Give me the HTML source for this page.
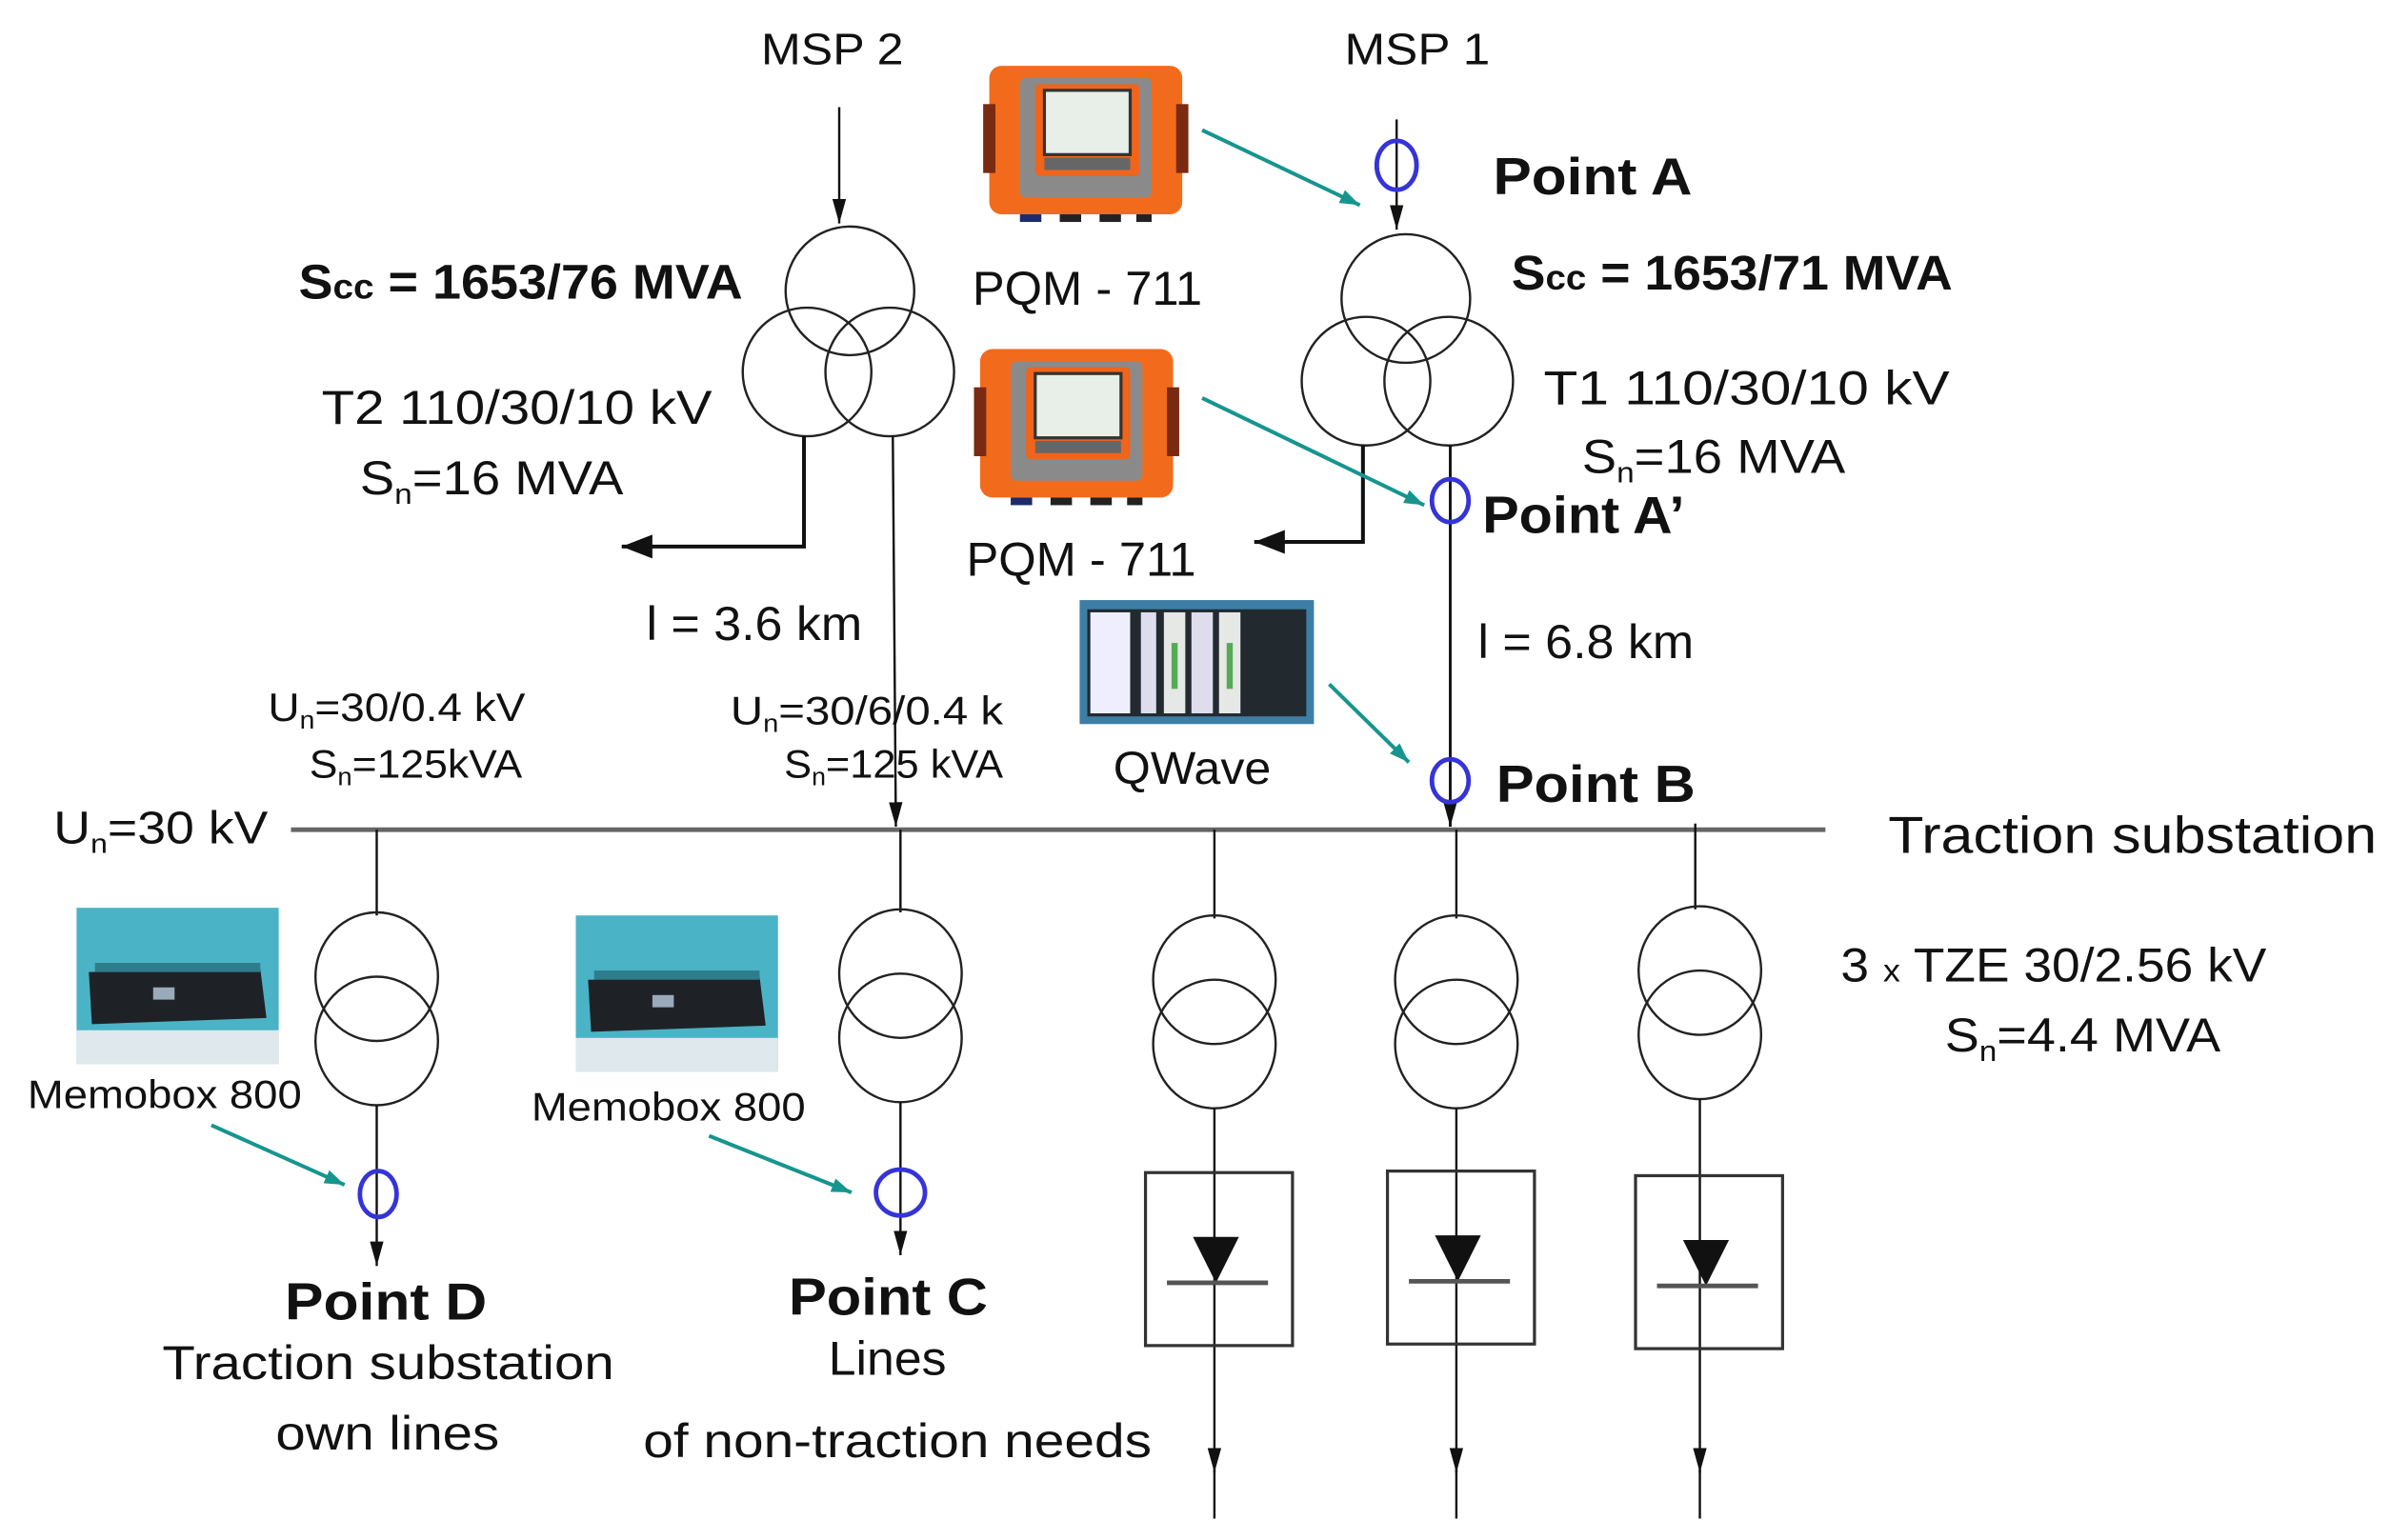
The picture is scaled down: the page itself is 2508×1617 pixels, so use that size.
<!DOCTYPE html>
<html><head><meta charset="utf-8"><style>
html,body{margin:0;padding:0;background:#fff;width:2508px;height:1617px;overflow:hidden}
svg{display:block}
text{font-family:"Liberation Sans",sans-serif;fill:#111}
.b{font-weight:bold}
</style></head><body>
<svg width="2508" height="1617" viewBox="0 0 1560 1006" preserveAspectRatio="none">
<defs>
<marker id="ah" viewBox="0 0 18 10" refX="18" refY="5" markerWidth="16" markerHeight="9" orient="auto" markerUnits="userSpaceOnUse"><path d="M0,0L18,5L0,10z" fill="#111"/></marker>
<marker id="ahb" viewBox="0 0 18 14" refX="18" refY="7" markerWidth="20" markerHeight="16" orient="auto" markerUnits="userSpaceOnUse"><path d="M0,0L18,7L0,14z" fill="#111"/></marker>
<marker id="ta" viewBox="0 0 14 10" refX="14" refY="5" markerWidth="13" markerHeight="10" orient="auto" markerUnits="userSpaceOnUse"><path d="M0,0L14,5L0,10z" fill="#16958f"/></marker>
<g id="pqm">
<rect x="0" y="0" width="126" height="97" rx="8" fill="#f26b1d"/>
<rect x="-4" y="25" width="8" height="45" fill="#7a2a10"/>
<rect x="122" y="25" width="8" height="45" fill="#7a2a10"/>
<rect x="20" y="8" width="86" height="78" rx="4" fill="#8a8a8a"/>
<rect x="30" y="12" width="68" height="60" rx="3" fill="#f0641c"/>
<rect x="36" y="16" width="56" height="42" fill="#e8eee8" stroke="#333" stroke-width="2"/>
<rect x="36" y="60" width="56" height="8" fill="#666"/>
<rect x="20" y="97" width="14" height="5" fill="#1c2c6a"/>
<rect x="46" y="97" width="14" height="5" fill="#222"/>
<rect x="72" y="97" width="14" height="5" fill="#222"/>
<rect x="96" y="97" width="10" height="5" fill="#222"/>
</g>
<g id="memo">
<rect x="0" y="0" width="132" height="102" fill="#4bb3c6"/>
<rect x="0" y="80" width="132" height="22" fill="#dfe8ec"/>
<path d="M8,42 L120,40 L124,72 L10,76z" fill="#1e2226"/>
<rect x="50" y="52" width="14" height="8" fill="#9ab"/>
<rect x="12" y="36" width="108" height="6" fill="#2e7d8c"/>
</g>
<g id="tr2">
<ellipse cx="0" cy="0" rx="40" ry="42" fill="none" stroke="#222" stroke-width="1.5"/>
<ellipse cx="0" cy="42" rx="40" ry="42" fill="none" stroke="#222" stroke-width="1.5"/>
</g>
<g id="rect">
<rect x="0" y="0" width="96" height="113" fill="none" stroke="#333" stroke-width="2"/>
<path d="M31,42 L61,42 L46,72z" fill="#111"/>
<line x1="14" y1="72" x2="80" y2="72" stroke="#555" stroke-width="3"/>
</g>
</defs>

<text x="497" y="42" font-size="29" textLength="93" lengthAdjust="spacingAndGlyphs">MSP 2</text>
<text x="878" y="42" font-size="29" textLength="95" lengthAdjust="spacingAndGlyphs">MSP 1</text>

<!-- T2 -->
<line x1="548" y1="70" x2="548" y2="146" stroke="#111" stroke-width="1.5" marker-end="url(#ah)"/>
<circle cx="555" cy="190" r="42" fill="none" stroke="#222" stroke-width="1.5"/>
<circle cx="527" cy="243" r="42" fill="none" stroke="#222" stroke-width="1.5"/>
<circle cx="581" cy="243" r="42" fill="none" stroke="#222" stroke-width="1.5"/>
<polyline points="525,285 525,357 406,357" fill="none" stroke="#111" stroke-width="2.5" marker-end="url(#ahb)"/>
<line x1="583" y1="285" x2="585" y2="540" stroke="#111" stroke-width="1.5" marker-end="url(#ah)"/>
<text x="195" y="195" font-size="32" class="b" textLength="290" lengthAdjust="spacingAndGlyphs">S<tspan font-size="23">cc</tspan> = 1653/76 MVA</text>
<text x="210" y="277" font-size="31" textLength="255" lengthAdjust="spacingAndGlyphs">T2 110/30/10 kV</text>
<text x="235" y="323" font-size="31" textLength="172" lengthAdjust="spacingAndGlyphs">S<tspan font-size="19" dy="6">n</tspan><tspan dy="-6">=16 MVA</tspan></text>
<text x="422" y="418" font-size="31" textLength="141" lengthAdjust="spacingAndGlyphs">l = 3.6 km</text>

<use href="#pqm" x="646" y="43"/>
<use href="#pqm" x="640" y="228"/>
<text x="635" y="199" font-size="31" textLength="150" lengthAdjust="spacingAndGlyphs">PQM - 711</text>
<text x="631" y="376" font-size="31" textLength="150" lengthAdjust="spacingAndGlyphs">PQM - 711</text>

<!-- T1 -->
<line x1="912" y1="78" x2="912" y2="150" stroke="#111" stroke-width="1.5" marker-end="url(#ah)"/>
<ellipse cx="912" cy="108" rx="13" ry="16" fill="none" stroke="#3434d8" stroke-width="3"/>
<text x="975" y="127" font-size="34" class="b" textLength="130" lengthAdjust="spacingAndGlyphs">Point A</text>
<circle cx="918" cy="195" r="42" fill="none" stroke="#222" stroke-width="1.5"/>
<circle cx="892" cy="249" r="42" fill="none" stroke="#222" stroke-width="1.5"/>
<circle cx="946" cy="249" r="42" fill="none" stroke="#222" stroke-width="1.5"/>
<polyline points="890,291 890,354 819,354" fill="none" stroke="#111" stroke-width="2.5" marker-end="url(#ahb)"/>
<line x1="947" y1="291" x2="947" y2="540" stroke="#111" stroke-width="1.8" marker-end="url(#ah)"/>
<ellipse cx="947" cy="327" rx="12" ry="14" fill="none" stroke="#3434d8" stroke-width="3"/>
<ellipse cx="947" cy="510" rx="12" ry="14" fill="none" stroke="#3434d8" stroke-width="3"/>
<text x="987" y="189" font-size="32" class="b" textLength="288" lengthAdjust="spacingAndGlyphs">S<tspan font-size="23">cc</tspan> = 1653/71 MVA</text>
<text x="1008" y="264" font-size="31" textLength="265" lengthAdjust="spacingAndGlyphs">T1  110/30/10 kV</text>
<text x="1033" y="309" font-size="31" textLength="172" lengthAdjust="spacingAndGlyphs">S<tspan font-size="19" dy="6">n</tspan><tspan dy="-6">=16 MVA</tspan></text>
<text x="968" y="348" font-size="34" class="b" textLength="132" lengthAdjust="spacingAndGlyphs">Point A’</text>
<text x="965" y="430" font-size="31" textLength="141" lengthAdjust="spacingAndGlyphs">l = 6.8 km</text>
<text x="977" y="524" font-size="34" class="b" textLength="130" lengthAdjust="spacingAndGlyphs">Point B</text>

<!-- QWave -->
<rect x="705" y="392" width="153" height="81" fill="#3d7ea6"/>
<rect x="710" y="398" width="143" height="70" fill="#222a30"/>
<rect x="712" y="400" width="26" height="66" fill="#eef"/>
<rect x="745" y="400" width="10" height="66" fill="#dde"/>
<rect x="760" y="400" width="14" height="66" fill="#e6e8e6"/>
<rect x="778" y="400" width="14" height="66" fill="#dde"/>
<rect x="796" y="400" width="14" height="66" fill="#e6e8e6"/>
<rect x="765" y="420" width="4" height="30" fill="#5a5"/>
<rect x="801" y="420" width="4" height="30" fill="#5a5"/>
<text x="727" y="512" font-size="30" textLength="103" lengthAdjust="spacingAndGlyphs">QWave</text>

<g stroke="#16958f" stroke-width="2.5" marker-end="url(#ta)">
<line x1="785" y1="85" x2="888" y2="134"/>
<line x1="785" y1="260" x2="930" y2="330"/>
<line x1="868" y1="447" x2="920" y2="498"/>
<line x1="138" y1="735" x2="225" y2="774"/>
<line x1="463" y1="742" x2="556" y2="779"/>
</g>

<line x1="190" y1="542" x2="1192" y2="542" stroke="#666" stroke-width="3"/>
<text x="35" y="551" font-size="30" textLength="140" lengthAdjust="spacingAndGlyphs">U<tspan font-size="18" dy="6">n</tspan><tspan dy="-6">=30 kV</tspan></text>
<text x="1233" y="557" font-size="34" textLength="319" lengthAdjust="spacingAndGlyphs">Traction substation</text>
<text x="175" y="471" font-size="26" textLength="168" lengthAdjust="spacingAndGlyphs">U<tspan font-size="16" dy="5">n</tspan><tspan dy="-5">=30/0.4 kV</tspan></text>
<text x="202" y="508" font-size="26" textLength="139" lengthAdjust="spacingAndGlyphs">S<tspan font-size="16" dy="5">n</tspan><tspan dy="-5">=125kVA</tspan></text>
<text x="477" y="473" font-size="26" textLength="178" lengthAdjust="spacingAndGlyphs">U<tspan font-size="16" dy="5">n</tspan><tspan dy="-5">=30/6/0.4 k</tspan></text>
<text x="512" y="508" font-size="26" textLength="143" lengthAdjust="spacingAndGlyphs">S<tspan font-size="16" dy="5">n</tspan><tspan dy="-5">=125 kVA</tspan></text>

<g stroke="#111" stroke-width="1.5">
<line x1="246" y1="542" x2="246" y2="598"/>
<line x1="588" y1="542" x2="588" y2="596"/>
<line x1="793" y1="542" x2="793" y2="600"/>
<line x1="951" y1="542" x2="951" y2="600"/>
<line x1="1107" y1="538" x2="1107" y2="594"/>
</g>
<use href="#tr2" x="246" y="638"/>
<use href="#tr2" x="588" y="636"/>
<use href="#tr2" x="793" y="640"/>
<use href="#tr2" x="951" y="640"/>
<use href="#tr2" x="1110" y="634"/>
<g stroke="#111" stroke-width="1.5" marker-end="url(#ah)">
<line x1="246" y1="722" x2="246" y2="827"/>
<line x1="588" y1="720" x2="588" y2="820"/>
<line x1="793" y1="724" x2="793" y2="962"/>
<line x1="951" y1="724" x2="951" y2="962"/>
<line x1="1110" y1="718" x2="1110" y2="962"/>
</g>
<g stroke="#111" stroke-width="1.5">
<line x1="793" y1="960" x2="793" y2="992"/>
<line x1="951" y1="960" x2="951" y2="992"/>
<line x1="1110" y1="960" x2="1110" y2="992"/>
</g>
<ellipse cx="247" cy="780" rx="12" ry="15" fill="none" stroke="#3434d8" stroke-width="3"/>
<ellipse cx="588" cy="779" rx="16" ry="15" fill="none" stroke="#3434d8" stroke-width="3"/>
<use href="#rect" x="748" y="766"/>
<use href="#rect" x="906" y="765"/>
<use href="#rect" x="1068" y="768"/>

<text x="1202" y="641" font-size="31" textLength="278" lengthAdjust="spacingAndGlyphs">3 <tspan font-size="21">x</tspan> TZE 30/2.56 kV</text>
<text x="1270" y="687" font-size="31" textLength="180" lengthAdjust="spacingAndGlyphs">S<tspan font-size="19" dy="6">n</tspan><tspan dy="-6">=4.4 MVA</tspan></text>

<use href="#memo" x="50" y="593"/>
<use href="#memo" x="376" y="598"/>
<text x="18" y="724" font-size="26" textLength="179" lengthAdjust="spacingAndGlyphs">Memobox 800</text>
<text x="347" y="732" font-size="26" textLength="179" lengthAdjust="spacingAndGlyphs">Memobox 800</text>

<text x="186" y="862" font-size="34" class="b" textLength="132" lengthAdjust="spacingAndGlyphs">Point D</text>
<text x="106" y="901" font-size="31" textLength="295" lengthAdjust="spacingAndGlyphs">Traction substation</text>
<text x="180" y="947" font-size="31" textLength="146" lengthAdjust="spacingAndGlyphs">own lines</text>
<text x="515" y="859" font-size="34" class="b" textLength="130" lengthAdjust="spacingAndGlyphs">Point C</text>
<text x="541" y="898" font-size="31" textLength="77" lengthAdjust="spacingAndGlyphs">Lines</text>
<text x="420" y="952" font-size="31" textLength="332" lengthAdjust="spacingAndGlyphs">of non-traction needs</text>
</svg>
</body></html>
